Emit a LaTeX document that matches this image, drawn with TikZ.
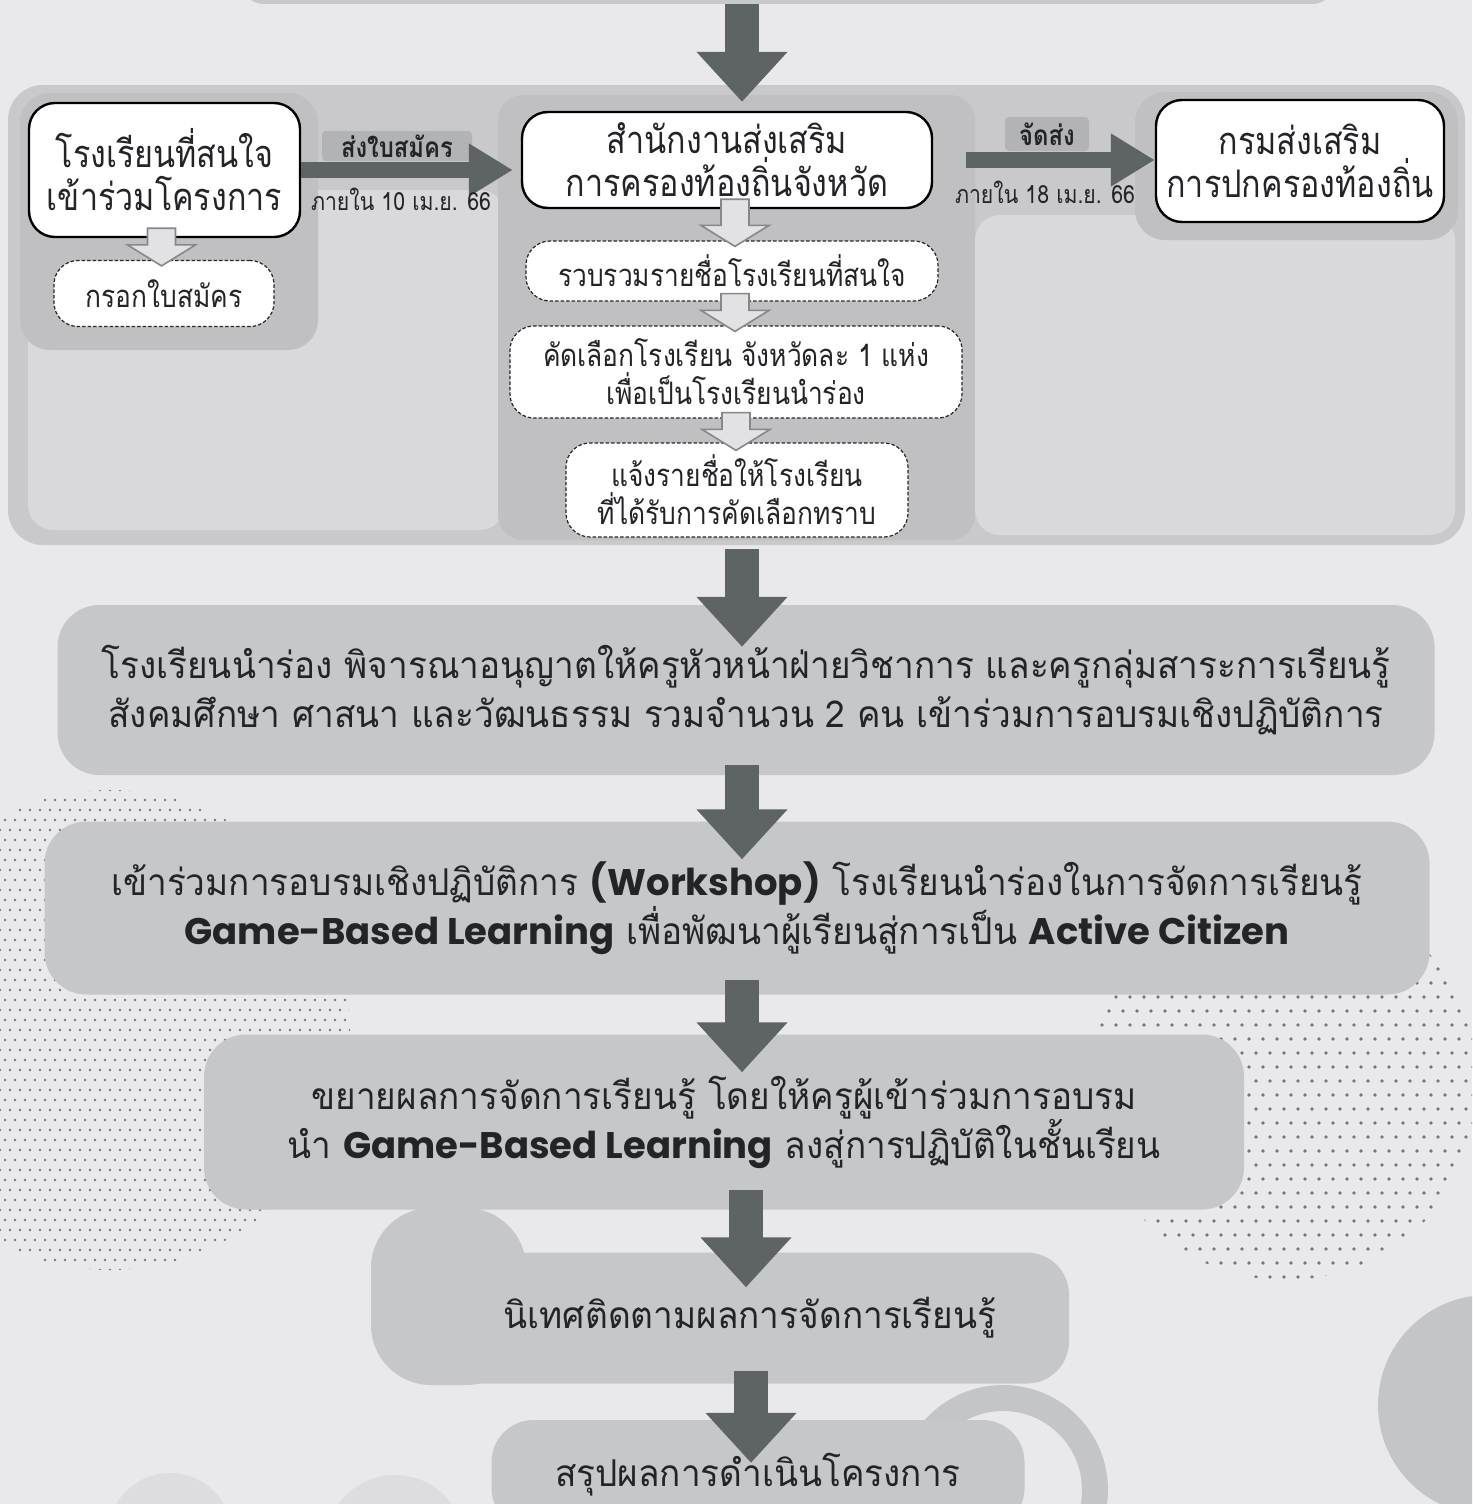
\documentclass[tikz,border=0pt]{standalone}
\usepackage{fontspec}
\newfontfamily\thaif[Script=Thai,FakeStretch=0.95]{Loma}
\newfontfamily\thaic[Script=Thai,FakeStretch=0.85]{Loma}
\newfontfamily\latf{Poppins}
\newcommand\lat[1]{{\latf\bfseries\fontsize{37}{49}\selectfont #1}}
\usetikzlibrary{arrows.meta,calc}
\definecolor{bgc}{HTML}{E9E9EC}
\definecolor{contc}{HTML}{C9C9CB}
\definecolor{panelc}{HTML}{C0C0C3}
\definecolor{lightc}{HTML}{D9D9DC}
\definecolor{boxc}{HTML}{C6C7C9}
\definecolor{arrc}{HTML}{5E6365}
\definecolor{txtc}{HTML}{222427}
\definecolor{dotc}{HTML}{74767B}
\definecolor{hollowf}{HTML}{E2E2E4}
\definecolor{hollowd}{HTML}{85878A}
\definecolor{lblc}{HTML}{B2B3B5}
\definecolor{blobc}{HTML}{DDDDE1}
\definecolor{circc}{HTML}{C4C5C8}
\tikzset{
 solidbox/.style={draw=black, line width=2.4pt, fill=white, rounded corners=26pt, align=center, text=txtc, font=\thaic\fontsize{38}{43}\selectfont, inner sep=0pt},
 dashbox/.style={draw=black!85, line width=1.2pt, dash pattern=on 3.5pt off 2pt, fill=white, rounded corners=24pt, align=center, text=txtc, font=\thaic\fontsize{31}{38}\selectfont, inner sep=0pt},
 bigbox/.style={fill=boxc, rounded corners=42pt, align=center, text=txtc, font=\thaif\fontsize{37}{49}\selectfont, inner sep=0pt},
 bigarr/.style={draw=arrc, line width=34pt, -{Triangle[width=88pt,length=50pt]}},
 harr/.style={draw=arrc, line width=16pt, -{Triangle[width=50pt,length=44pt]}},
 hollowarr/.style={draw=hollowd, line width=1.6pt, fill=hollowf},
 lblbox/.style={fill=lblc, rounded corners=4pt, text=txtc, font=\thaic\bfseries\fontsize{28}{30}\selectfont, inner sep=0pt},
 datelbl/.style={text=txtc, font=\thaic\fontsize{25}{28}\selectfont, inner sep=0pt},
 bg/.style={fill=#1, rounded corners=28pt}
}
\newcommand\hollowdown[2]{%
 \draw[hollowarr] let \p1=#1, \p2=#2 in
 (\x1-14pt,\y1) -- (\x1-14pt,\y2+21pt) -- (\x1-34pt,\y2+21pt) -- (\x1,\y2) --
 (\x1+34pt,\y2+21pt) -- (\x1+14pt,\y2+21pt) -- (\x1+14pt,\y1) -- cycle;}
\begin{document}
\begin{tikzpicture}[x=1pt,y=-1pt]
\useasboundingbox (0,0) rectangle (1472,1504);
\clip (0,0) rectangle (1472,1504);
\fill[bgc] (0,0) rectangle (1472,1504);
% decorations
\fill[circc] (1488,1405) circle (110pt);
\draw[circc, line width=26pt] (1003,1490) circle (92pt);
\fill[blobc] (170,1535) circle (62pt);
\fill[blobc] (395,1545) circle (70pt);
\begin{scope}
 \clip (110,1030) circle (240pt);
 \foreach \i in {0,...,36} \foreach \j in {0,...,48}
  {\fill[dotc] ({\i*10+mod(\j,2)*5},{790+\j*10}) circle (1.3pt);}
\end{scope}
\begin{scope}
 \clip (1285,1085) circle (195pt);
 \foreach \i in {0,...,30} \foreach \j in {0,...,29}
  {\fill[dotc] ({1060+\i*14+mod(\j,2)*7},{885+\j*14}) circle (1.8pt);}
\end{scope}
\fill[boxc, rounded corners=60pt] (371,1208) rectangle (526,1385);
% previous box strip at top
\node[fill=contc, rounded corners=20pt, minimum width=1090pt, minimum height=48pt, inner sep=0pt] (prev) at (788,-20) {};
\coordinate (ax) at (742,0);
% top container
\node[bg=contc, rounded corners=35pt, minimum width=1457pt, minimum height=460pt, inner sep=0pt] (top) at (736.5,315) {};
\fill[lightc, rounded corners=25pt] (28,190) rectangle (505,530);
\fill[panelc, rounded corners=30pt] (20,93) rectangle (318,350);
\fill[panelc, rounded corners=25pt] (498,95) rectangle (975,540);
\fill[lightc, rounded corners=25pt] (975,215) rectangle (1455,535);
\fill[panelc, rounded corners=30pt] (1135,92) rectangle (1458,240);
% nodes top section
\node[solidbox, minimum width=271pt, minimum height=134pt] (n1) at (164.5,170) {โรงเรียนที่สนใจ\\เข้าร่วมโครงการ};
\node[dashbox, minimum width=220pt, minimum height=66pt] (n1a) at (164,293.5) {กรอกใบสมัคร};
\node[solidbox, minimum width=410pt, minimum height=96pt] (n2) at (727,160) {สำนักงานส่งเสริม\\การครองท้องถิ่นจังหวัด};
\node[dashbox, minimum width=412pt, minimum height=60pt] (n2a) at (732,271) {รวบรวมรายชื่อโรงเรียนที่สนใจ};
\node[dashbox, minimum width=452pt, minimum height=92pt] (n2b) at (736,372) {คัดเลือกโรงเรียน จังหวัดละ 1 แห่ง\\เพื่อเป็นโรงเรียนนำร่อง};
\node[dashbox, minimum width=342pt, minimum height=94pt] (n2c) at (737,490) {แจ้งรายชื่อให้โรงเรียน\\ที่ได้รับการคัดเลือกทราบ};
\node[solidbox, minimum width=288pt, minimum height=122pt] (n3) at (1300,161) {กรมส่งเสริม\\การปกครองท้องถิ่น};
% horizontal arrows with labels
\node[lblbox, minimum width=150pt, minimum height=30pt] (l1) at (397,146) {ส่งใบสมัคร};
\draw[harr, shorten >=8pt] (n1.east) -- (n1.east -| n2.west);
\node[datelbl] (d1) at (401,199) {ภายใน 10 เม.ย. 66};
\node[lblbox, minimum width=84pt, minimum height=34pt] (l2) at (1047,134) {จัดส่ง};
\draw[harr, shorten <=33pt] (n2.east) -- (n2.east -| n3.west);
\node[datelbl] (d2) at (1045,192) {ภายใน 18 เม.ย. 66};
% hollow arrows
\hollowdown{($(n1.south)+(-3,-10)$)}{($(n1a.north)+(-3,6)$)}
\hollowdown{($(n2.south)+(8,-10)$)}{($(n2a.north)+(3,6)$)}
\hollowdown{($(n2a.south)+(3,-8)$)}{($(n2b.north)+(0,6)$)}
\hollowdown{($(n2b.south)+(0,-6)$)}{($(n2c.north)+(0,8)$)}
% big boxes
\node[bigbox, minimum width=1377pt, minimum height=170pt] (b1) at (746,690) {โรงเรียนนำร่อง พิจารณาอนุญาตให้ครูหัวหน้าฝ่ายวิชาการ และครูกลุ่มสาระการเรียนรู้\\สังคมศึกษา ศาสนา และวัฒนธรรม รวมจำนวน 2 คน เข้าร่วมการอบรมเชิงปฏิบัติการ};
\node[bigbox, minimum width=1385pt, minimum height=173pt] (b2) at (737,908) {เข้าร่วมการอบรมเชิงปฏิบัติการ \lat{(Workshop)} โรงเรียนนำร่องในการจัดการเรียนรู้\\\lat{Game-Based Learning} เพื่อพัฒนาผู้เรียนสู่การเป็น \lat{Active Citizen}};
\node[bigbox, minimum width=1040pt, minimum height=175pt] (b3) at (724,1122) {ขยายผลการจัดการเรียนรู้ โดยให้ครูผู้เข้าร่วมการอบรม\\นำ \lat{Game-Based Learning} ลงสู่การปฏิบัติในชั้นเรียน};
\node[bigbox, minimum width=638pt, minimum height=131pt] (b4) at (750,1318) {นิเทศติดตามผลการจัดการเรียนรู้};
\node[bigbox, minimum width=533pt, minimum height=110pt] (b5) at (758,1475) {สรุปผลการดำเนินโครงการ};
% big arrows
\draw[bigarr] (prev.south -| ax) -- ($(top.north -| ax)+(0,17)$);
\draw[bigarr] ($(top.south -| ax)+(0,4)$) -- ($(b1.north -| ax)+(0,42)$);
\draw[bigarr] ($(b1.south -| ax)+(0,-10)$) -- ($(b2.north -| ax)+(0,38)$);
\draw[bigarr] ($(b2.south -| ax)+(0,-15)$) -- ($(b3.north -| ax)+(0,38)$);
\draw[bigarr] ($(b3.south -| ax)+(4,-20)$) -- ($(b4.north -| ax)+(4,35)$);
\draw[bigarr] ($(b4.south -| ax)+(9,-13)$) -- ($(b5.north -| ax)+(9,43)$);
\end{tikzpicture}
\end{document}
